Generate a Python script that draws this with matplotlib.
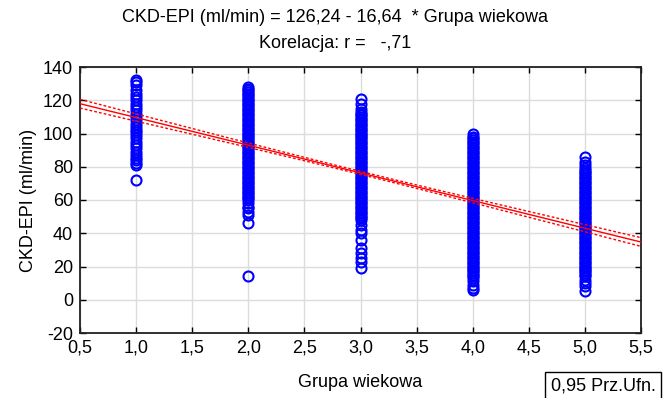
import numpy as np
import matplotlib
matplotlib.use('Agg')
import matplotlib.pyplot as plt
from matplotlib.ticker import FuncFormatter

plt.rcParams['font.family'] = ['Liberation Sans', 'DejaVu Sans']

# regression coefficients (from title)
intercept = 126.24
slope = -16.64
r_value = '-,71'

# 95% CI band: half-width at band centre, centre x and growth
ci_half_center = 0.9
ci_center_x = 3.0
ci_growth = 0.98

# CKD-EPI values per age group
group1 = [132, 131, 129, 126, 124, 122, 120, 118, 116, 114, 112, 110, 108,
          106, 104, 102, 101, 99, 97, 95, 93, 91, 89, 87, 85, 84, 82, 81, 72]
group2 = [128, 127, 126, 125, 124, 123, 122, 121, 120, 119, 118, 117, 116,
          115, 114, 113, 112, 111, 110, 109, 108, 107, 106, 105, 104, 103,
          102, 101, 100, 99, 98, 97, 96, 95, 94, 93, 92, 91, 90, 89, 88, 87,
          86, 85, 84, 83, 82, 81, 80, 79, 78, 77, 76, 75, 74, 73, 72, 71, 70,
          69, 68, 67, 66, 65, 64, 63, 62, 61, 60, 58, 56, 55, 53, 51, 46, 14]
group3 = [121, 118, 115, 113, 112, 111, 110, 109, 108, 107, 106, 105, 104,
          103, 102, 101, 100, 99, 98, 97, 96, 95, 94, 93, 92, 91, 90, 89, 88,
          87, 86, 85, 84, 83, 82, 81, 80, 79, 78, 77, 76, 75, 74, 73, 72, 71,
          70, 69, 68, 67, 66, 65, 64, 63, 62, 61, 60, 59, 58, 57, 56, 55, 54,
          53, 52, 51, 50, 49, 48, 45, 42, 40, 36, 31, 28, 25, 23, 19]
group4 = [100, 98, 97, 96, 95, 94, 93, 92, 91, 90, 89, 88, 87, 86, 85, 84,
          83, 82, 81, 80, 79, 78, 77, 76, 75, 74, 73, 72, 71, 70, 69, 68, 67,
          66, 65, 64, 63, 62, 61, 60, 59, 58, 57, 56, 55, 54, 53, 52, 51, 50,
          49, 48, 47, 46, 45, 44, 43, 42, 41, 40, 39, 38, 37, 36, 35, 34, 33,
          32, 31, 30, 29, 28, 27, 26, 25, 24, 23, 22, 21, 20, 19, 18, 17, 16,
          15, 14, 13, 11, 9, 7, 6]
group5 = [86, 83, 81, 79, 78, 77, 76, 75, 74, 73, 72, 71, 70, 69, 68, 67, 66,
          65, 64, 63, 62, 61, 60, 59, 58, 57, 56, 55, 54, 53, 52, 51, 50, 49,
          48, 47, 46, 45, 44, 43, 42, 41, 40, 39, 38, 37, 36, 35, 34, 33, 32,
          31, 30, 29, 28, 27, 26, 25, 24, 23, 22, 21, 20, 19, 18, 17, 16, 15,
          14, 12, 10, 8, 5]
groups = [1.0, 2.0, 3.0, 4.0, 5.0]
values = [group1, group2, group3, group4, group5]

fig = plt.figure(figsize=(6.71, 3.98), dpi=100)
ax = fig.add_axes([80 / 671, 1 - 333 / 398, 561 / 671, 266 / 398])

for g, vals in zip(groups, values):
    ax.plot([g] * len(vals), vals, linestyle='none', marker='o', markersize=7.2,
            markerfacecolor='none', markeredgecolor='#0000ff', markeredgewidth=1.5,
            zorder=3)

xs = np.linspace(0.5, 5.5, 200)
fit = intercept + slope * xs
hw = np.sqrt(ci_half_center ** 2 + ci_growth ** 2 * (xs - ci_center_x) ** 2)
ax.plot(xs, fit, color='#ff0000', lw=1.0, zorder=4)
ax.plot(xs, fit + hw, color='#ff0000', lw=1.0, ls=(0, (2, 1.5)), zorder=4)
ax.plot(xs, fit - hw, color='#ff0000', lw=1.0, ls=(0, (2, 1.5)), zorder=4)

ax.set_xlim(0.5, 5.5)
ax.set_ylim(-20, 140)
ax.set_xticks(np.arange(0.5, 5.51, 0.5))
ax.set_yticks(np.arange(-20, 141, 20))
ax.xaxis.set_major_formatter(FuncFormatter(lambda v, p: f'{v:.1f}'.replace('.', ',')))
ax.yaxis.set_major_formatter(FuncFormatter(lambda v, p: f'{v:.0f}'))
ax.grid(True, color='#dcdcdc', lw=1.0, zorder=0)
ax.set_axisbelow(True)
ax.tick_params(direction='in', top=True, right=True, length=4, width=1,
               labelsize=13, colors='black', pad=5)
for s in ax.spines.values():
    s.set_linewidth(1.3)
    s.set_color('#202020')

ax.set_xlabel('Grupa wiekowa', fontsize=13, labelpad=12)
ax.set_ylabel('CKD-EPI (ml/min)', fontsize=13, labelpad=4)

fig.text(0.5, 1 - 18 / 398, 'CKD-EPI (ml/min) = 126,24 - 16,64  * Grupa wiekowa',
         ha='center', va='center', fontsize=13)
fig.text(0.5, 1 - 43 / 398, 'Korelacja: r =   ' + r_value,
         ha='center', va='center', fontsize=13)

fig.text(603 / 671, 1 - 386 / 398, '0,95 Prz.Ufn.', ha='center', va='center',
         fontsize=13, bbox=dict(boxstyle='square,pad=0.3', facecolor='white',
                                edgecolor='black', lw=1))

fig.savefig('out.png', dpi=100)
